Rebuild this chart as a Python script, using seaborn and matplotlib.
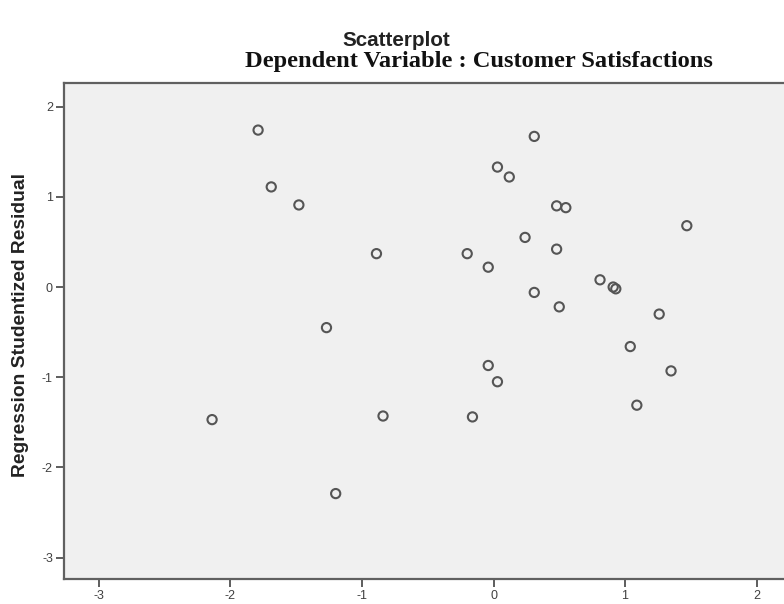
import matplotlib
matplotlib.use("Agg")
import matplotlib.pyplot as plt
import seaborn as sns
import pandas as pd

# Data
predicted = [-2.14, -1.79, -1.69, -1.48, -1.27, -1.20, -0.89, -0.84, -0.20, -0.16,
             -0.04, -0.04, 0.03, 0.03, 0.12, 0.31, 0.31, 0.24, 0.48, 0.55,
             0.48, 0.50, 0.81, 0.91, 0.93, 1.04, 1.09, 1.26, 1.35, 1.47]
residual = [-1.47, 1.74, 1.11, 0.91, -0.45, -2.29, 0.37, -1.43, 0.37, -1.44,
            0.22, -0.87, 1.33, -1.05, 1.22, 1.67, -0.06, 0.55, 0.90, 0.88,
            0.42, -0.22, 0.08, 0.00, -0.02, -0.66, -1.31, -0.30, -0.93, 0.68]
x_ticks = [-3, -2, -1, 0, 1, 2]
y_ticks = [-3, -2, -1, 0, 1, 2]

title = "Scatterplot"
subtitle = "Dependent Variable : Customer Satisfactions"
ylabel = "Regression Studentized Residual"

df = pd.DataFrame({"pred": predicted, "resid": residual})

sns.set_style("white")
plt.rcParams["font.family"] = ["Liberation Sans", "DejaVu Sans"]

fig = plt.figure(figsize=(7.84, 6.04), dpi=100)
ax = fig.add_axes([64 / 784, 1 - 579 / 604, 720 / 784, (579 - 83) / 604])
ax.set_facecolor("#f0f0f0")

sns.scatterplot(data=df, x="pred", y="resid", ax=ax, s=44,
                facecolor="none", edgecolor="#555555", linewidth=1.5,
                marker="o", legend=False)

ax.set_xlim(-3.266, 2.209)
ax.set_ylim(-3.237, 2.262)
ax.set_xticks(x_ticks)
ax.set_yticks(y_ticks)
ax.set_xticklabels([str(t) for t in x_ticks])
ax.set_yticklabels([str(t) for t in y_ticks])
ax.tick_params(axis="both", which="major", bottom=True, left=True,
               direction="out", length=6, width=1.3,
               color="#505050", labelsize=9, labelcolor="#404040", pad=2)
ax.set_xlabel("")
ax.set_ylabel("")

for side in ["left", "bottom", "top"]:
    ax.spines[side].set_color("#606060")
    ax.spines[side].set_linewidth(1.6)
ax.spines["right"].set_visible(False)

fig.text(21 / 784, 1 - 325 / 604, ylabel, ha="center", va="center", rotation=90,
         fontsize=13.9, fontweight="bold", color="#222222", family="Liberation Sans")
fig.text(396 / 784, 1 - 40 / 604, title, ha="center", va="center",
         fontsize=14.9, fontweight="bold", color="#222222", family="Liberation Sans")
fig.text(479 / 784, 1 - 62 / 604, subtitle, ha="center", va="center",
         fontsize=17.6, fontweight="bold", color="#111111", family="Liberation Serif")

fig.savefig("out.png", dpi=100)
